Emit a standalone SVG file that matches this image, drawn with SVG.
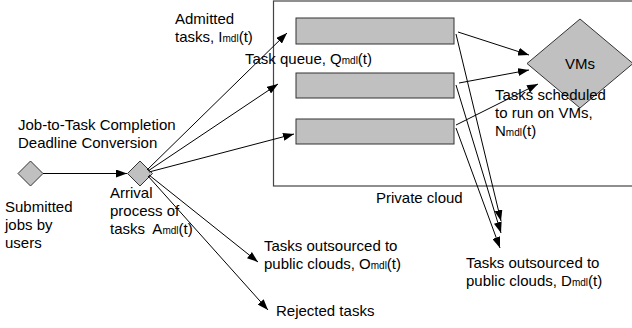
<svg xmlns="http://www.w3.org/2000/svg" width="632" height="328" viewBox="0 0 632 328">
  <defs>
    <marker id="arrow" viewBox="0 0 11 8" refX="11" refY="4" markerWidth="11" markerHeight="8" markerUnits="userSpaceOnUse" orient="auto">
      <path d="M0,0 L11,4 L0,8 Z" fill="#000"/>
    </marker>
    <style>
      text { font-family: "Liberation Sans", Arial, sans-serif; font-size: 15px; fill: #000; }
      .sub { font-size: 10px; }
      .shape { fill: #c0c0c0; stroke: #333; stroke-width: 1; }
      .cloud { fill: none; stroke: #444; stroke-width: 1.2; }
      .edge { fill: none; stroke: #000; stroke-width: 1; marker-end: url(#arrow); }
    </style>
  </defs>

  <!-- private cloud boundary (runs past the right edge) -->
  <rect id="private-cloud" class="cloud" x="273.5" y="1" width="420" height="185"/>
  <text x="376" y="203">Private cloud</text>

  <g id="submitted">
    <path class="shape" d="M30.5,161 L43,173.5 L30.5,186 L18,173.5 Z"/>
    <text x="5" y="212">Submitted</text>
    <text x="5" y="230">jobs by</text>
    <text x="5" y="248">users</text>
  </g>

  <g id="arrival">
    <path class="shape" d="M140,161 L152.5,173.5 L140,186 L127.5,173.5 Z"/>
    <text x="110" y="198">Arrival</text>
    <text x="110" y="216">process of</text>
    <text x="110" y="234">tasks <tspan dx="4">A</tspan><tspan class="sub">mdl</tspan>(t)</text>
  </g>

  <g id="conversion">
    <text x="18" y="130">Job-to-Task Completion</text>
    <text x="18" y="148">Deadline Conversion</text>
  </g>

  <g id="queue1"><rect class="shape" x="296" y="18" width="158" height="26"/></g>
  <g id="queue2"><rect class="shape" x="296" y="73" width="158" height="25"/></g>
  <g id="queue3"><rect class="shape" x="296" y="119" width="158" height="25"/></g>
  <text x="245" y="64">Task queue, Q<tspan class="sub">mdl</tspan>(t)</text>

  <g id="vms">
    <path class="shape" d="M580,19 L633,63.5 L580,108 L527,63.5 Z"/>
    <text x="580" y="69" text-anchor="middle">VMs</text>
  </g>

  <g id="labels">
    <text x="175" y="24">Admitted</text>
    <text x="175" y="42">tasks, I<tspan class="sub">mdl</tspan>(t)</text>
    <text x="495" y="100">Tasks scheduled</text>
    <text x="495" y="118">to run on VMs,</text>
    <text x="495" y="136">N<tspan class="sub">mdl</tspan>(t)</text>
    <text x="264" y="251">Tasks outsourced to</text>
    <text x="264" y="269">public clouds, O<tspan class="sub">mdl</tspan>(t)</text>
    <text x="276" y="316">Rejected tasks</text>
    <text x="466" y="268">Tasks outsourced to</text>
    <text x="466" y="286">public clouds, D<tspan class="sub">mdl</tspan>(t)</text>
  </g>

  <g id="connectors">
    <line class="edge" x1="43" y1="173.5" x2="127" y2="173.5"/>
    <line class="edge" x1="147" y1="170" x2="287" y2="33"/>
    <line class="edge" x1="148" y1="171" x2="278" y2="84"/>
    <line class="edge" x1="149" y1="172" x2="294" y2="134"/>
    <line class="edge" x1="149" y1="175" x2="258" y2="262"/>
    <line class="edge" x1="148" y1="176" x2="268" y2="310"/>
    <line class="edge" x1="458" y1="32" x2="529" y2="55"/>
    <line class="edge" x1="459" y1="83" x2="529" y2="70"/>
    <line class="edge" x1="456" y1="125" x2="538" y2="84"/>
    <line class="edge" x1="456" y1="34" x2="501" y2="221"/>
    <line class="edge" x1="456" y1="85" x2="501" y2="233"/>
    <line class="edge" x1="456" y1="128" x2="500" y2="248"/>
  </g>
</svg>
